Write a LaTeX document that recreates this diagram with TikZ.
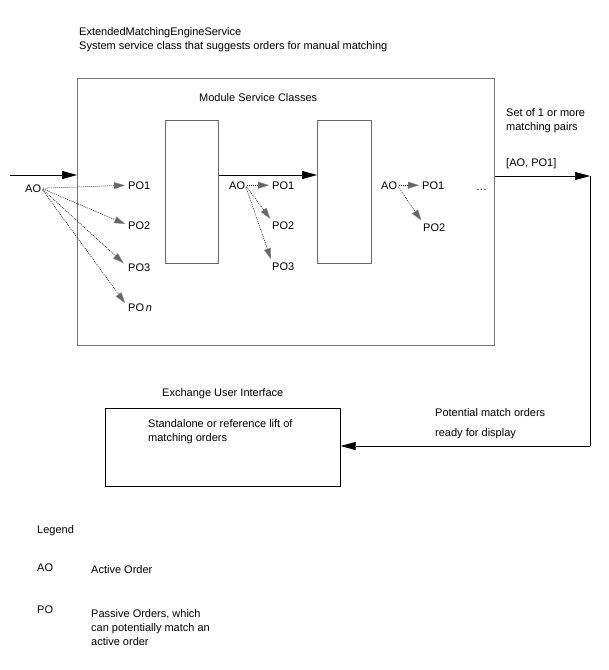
\documentclass[tikz,border=0pt]{standalone}
\usepackage{fontspec}
\setmainfont{Liberation Sans}
\usetikzlibrary{arrows.meta}
\begin{document}
\begin{tikzpicture}[x=1pt,y=-1pt,
  txt/.style={font=\fontsize{11}{14}\selectfont, inner sep=0pt, anchor=base west, align=left},
  mainbox/.style={draw=black!55, line width=1.2pt, anchor=north west, inner sep=0pt},
  modbox/.style={draw=black!60, line width=0.7pt, anchor=north west, inner sep=0pt},
  uibox/.style={draw=black, line width=0.7pt, anchor=north west, inner sep=0pt},
  bigarrow/.style={line width=0.7pt, -{Triangle[length=15pt,width=8pt]}},
  plainline/.style={line width=0.7pt},
  poarrow/.style={line width=0.5pt, dash pattern=on 1pt off 1pt, shorten <=2pt, shorten >=3pt,
    -{Triangle[length=11pt,width=7pt,fill=black!60,color=black!45,line width=0.3pt]}}
]
\useasboundingbox (0,0) rectangle (609,670);

% titles
\node[txt] (t1) at (79,35) {ExtendedMatchingEngineService};
\node[txt] (t2) at (79,49) {System service class that suggests orders for manual matching};

% boxes
\node[mainbox, minimum width=417pt, minimum height=267pt] (main) at (77,78) {};
\node[txt] (msc) at (199,101) {Module Service Classes};
\node[modbox, minimum width=53pt, minimum height=143pt] (r1) at (165,120) {};
\node[modbox, minimum width=54pt, minimum height=143pt] (r2) at (317,120) {};
\node[uibox, minimum width=235pt, minimum height=78pt] (ui) at (105,408) {};

% main flow
\coordinate (in) at (10,175);
\draw[bigarrow] (in) -- (in -| main.west);
\draw[bigarrow] (r1.east |- 0,175) -- (r2.west |- 0,175);
\coordinate (outE) at (590,176);
\coordinate (retC) at (590,446);
\draw[bigarrow] (main.east |- outE) -- (outE);
\draw[plainline] (outE) -- (retC);
\draw[bigarrow] (retC) -- (retC -| ui.east);

% right labels
\node[txt] (set1) at (506,116) {Set of 1 or more};
\node[txt] (set2) at (506,130) {matching pairs};
\node[txt] (pair) at (506,166) {[AO, PO1]};

% group 1
\node[txt] (aoA) at (25,192) {AO};
\node[txt] (poA1) at (128,189) {PO1};
\node[txt] (poA2) at (128,229) {PO2};
\node[txt] (poA3) at (128,271) {PO3};
\node[txt] (poAn) at (128,311) {PO\,\textit{n}};
\draw[poarrow] (aoA.east) -- (poA1.west);
\draw[poarrow] (aoA.east) -- (poA2.west);
\draw[poarrow, shorten >=6pt] (aoA.east) -- (poA3.west);
\draw[poarrow, shorten >=5pt] (aoA.east) -- (poAn.west);

% group 2
\node[txt] (aoB) at (229,189) {AO};
\node[txt] (poB1) at (272,189) {PO1};
\node[txt] (poB2) at (272,229) {PO2};
\node[txt] (poB3) at (272,270) {PO3};
\draw[poarrow] (aoB.east) -- (poB1.west);
\draw[poarrow] (aoB.east) -- (poB2.north west);
\draw[poarrow] (aoB.east) -- (poB3.north west);

% group 3
\node[txt] (aoC) at (381,189) {AO};
\node[txt] (poC1) at (422,189) {PO1};
\node[txt] (poC2) at (423,231) {PO2};
\node[txt] (dots) at (476,190) {\dots};
\draw[poarrow] (aoC.east) -- (poC1.west);
\draw[poarrow] (aoC.east) -- (poC2.north west);

% UI
\node[txt] (eui) at (162,396) {Exchange User Interface};
\node[txt] (sa1) at (148,427) {Standalone or reference lift of};
\node[txt] (sa2) at (148,441) {matching orders};
\node[txt] (pm1) at (435,416) {Potential match orders};
\node[txt] (pm2) at (435,436) {ready for display};

% legend
\node[txt] (leg) at (37,533) {Legend};
\node[txt] (lao) at (37,571) {AO};
\node[txt] (laod) at (91,573) {Active Order};
\node[txt] (lpo) at (37,613) {PO};
\node[txt] (lpod1) at (91,617) {Passive Orders, which};
\node[txt] (lpod2) at (91,631) {can potentially match an};
\node[txt] (lpod3) at (91,645) {active order};
\end{tikzpicture}
\end{document}
